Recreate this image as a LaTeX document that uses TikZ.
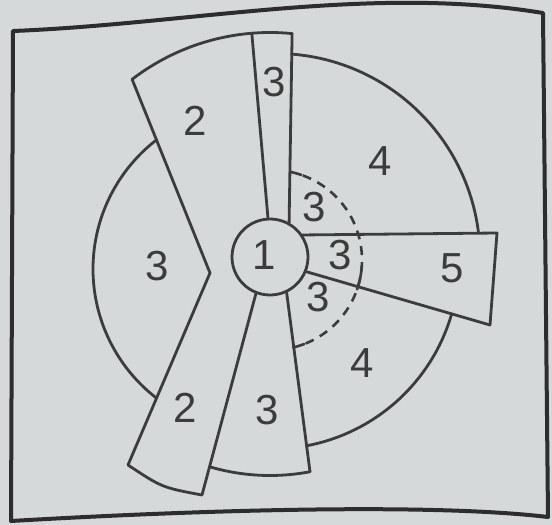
\documentclass[tikz,border=0pt]{standalone}
\usepackage{fontspec}
\setmainfont{Liberation Sans}
\usetikzlibrary{calc}
\definecolor{paper}{RGB}{214,217,217}
\definecolor{ink}{RGB}{60,60,60}
\definecolor{frameink}{RGB}{45,45,45}
\begin{document}
\begin{tikzpicture}[x=1pt,y=-1pt,
  edge/.style={draw=ink,line width=2.8pt,line cap=round,line join=round},
  dashedge/.style={draw=ink,line width=2.6pt,dash pattern=on 9pt off 7pt},
  solidtick/.style={draw=ink,line width=2.6pt,line cap=round},
  frameline/.style={draw=frameink,line width=4pt,line join=round},
  digit/.style={text=ink,font=\fontsize{42}{42}\selectfont,inner sep=0pt},
]
\fill[paper] (0,0) rectangle (552,525);
\useasboundingbox (0,0) rectangle (552,525);
% outer frame (photographed, slightly bowed)
\draw[frameline] (13,31) .. controls (190,24) and (370,-15.5) .. (543,13) -- (548,517)
  .. controls (430,503) and (200,510) .. (11,521) -- cycle;

% hub
\node[circle,draw=ink,line width=2.8pt,minimum size=76pt,inner sep=0pt] (hub) at (270,257) {};

\coordinate (A) at (132.1,79.3);
\coordinate (B) at (292.1,33.6);
\coordinate (T3L) at (251.8,33.2);
\coordinate (V) at (210,273);
\coordinate (BL2) at (128,465);
\coordinate (BR2) at (202,495);
\coordinate (TR5) at (497,233);
\coordinate (BR5) at (490,325);
\coordinate (B3R) at (310,471.7);

% top arc of blades 2 and 3
\draw[edge] plot[domain=-127.5:-84.4,samples=60,variable=\t] ({270+226.5*cos(\t)},{259+226.5*sin(\t)});
% blade 2 outline
\draw[edge] (A) -- (V) -- (BL2) .. controls (162,487.5) .. (BR2) -- (hub.-111.5);
% top blade 3
\draw[edge] (T3L) -- (hub.93);
\draw[edge] (B) -- (hub.61.5);
% blade 5
\draw[edge] (hub.34) -- (TR5) -- (BR5) -- (hub.-22);
% bottom sector 3 right edge
\draw[edge] (hub.-65) -- (B3R);

% arcs
\draw[edge] plot[domain=232.4:127.6,samples=80,variable=\t] ({256+163*cos(\t)},{269+163*sin(\t)});
\draw[edge] plot[domain=-85.6:-6.9,samples=80,variable=\t] ({276+204*cos(\t)},{257.5+204*sin(\t)});
\draw[edge] plot[domain=16.1:79.4,samples=60,variable=\t] ({272+187*cos(\t)},{262+187*sin(\t)});
\draw[edge] plot[domain=106.5:79.2,samples=40,variable=\t] ({270+213.5*cos(\t)},{262+213.5*sin(\t)});

% dashed inner arc
\draw[dashedge] plot[domain=-70:68,samples=100,variable=\t] ({272+90*cos(\t)},{260+90*sin(\t)});
\draw[solidtick] plot[domain=-77.8:-71,samples=10,variable=\t] ({272+90*cos(\t)},{260+90*sin(\t)});
\draw[solidtick] plot[domain=4:19,samples=12,variable=\t] ({272+90*cos(\t)},{260+90*sin(\t)});
\draw[solidtick] plot[domain=69:76.4,samples=10,variable=\t] ({272+90*cos(\t)},{260+90*sin(\t)});

% labels
\node[digit] (l1) at (264,255) {1};
\node[digit] (l3top) at (274,82) {3};
\node[digit] (l2top) at (195,121) {2};
\node[digit] (l4up) at (380,161) {4};
\node[digit] (l3left) at (157,266) {3};
\node[digit] (l3a) at (314,207) {3};
\node[digit] (l3b) at (340,255) {3};
\node[digit] (l3c) at (318,297) {3};
\node[digit] (l5) at (452,268) {5};
\node[digit] (l4low) at (362,363) {4};
\node[digit] (l2low) at (185,408) {2};
\node[digit] (l3low) at (267,410) {3};
\end{tikzpicture}
\end{document}
